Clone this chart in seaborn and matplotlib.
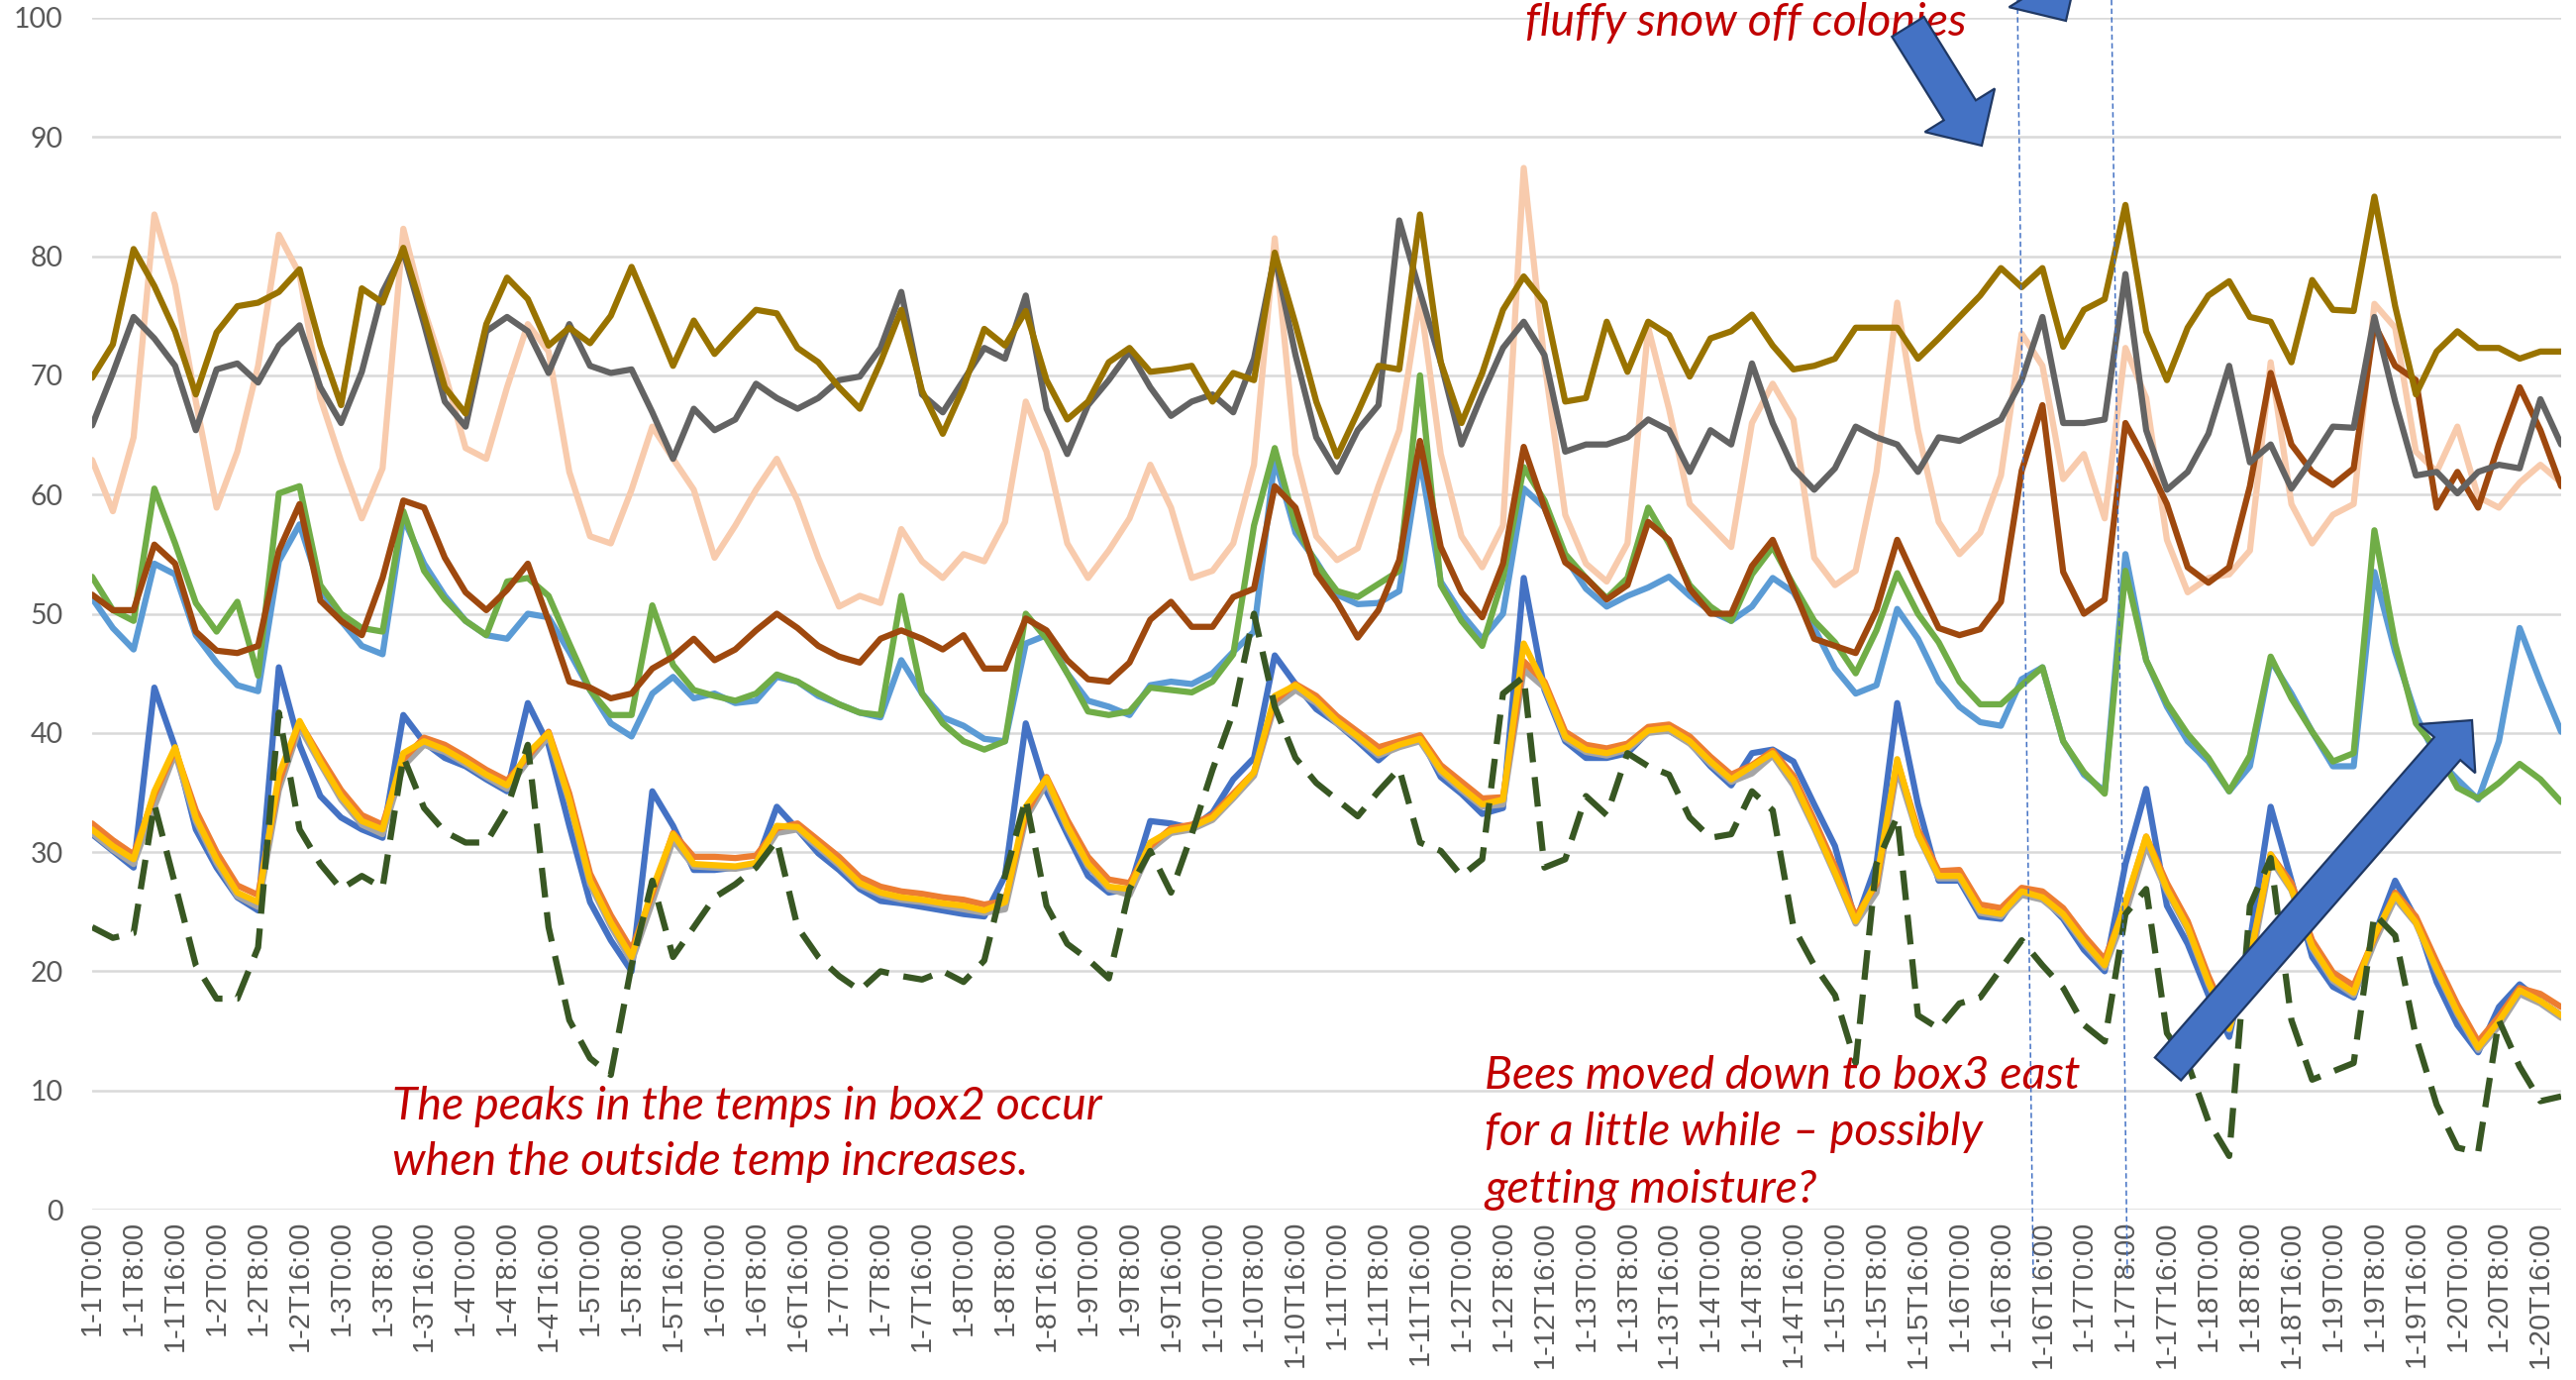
import numpy as np
import pandas as pd
import matplotlib
matplotlib.use("Agg")
import matplotlib.pyplot as plt
import seaborn as sns
from matplotlib.patches import Polygon
from matplotlib.lines import Line2D
from matplotlib.transforms import IdentityTransform

# readings every 4 hours, from 1-1T0:00 to 1-20T20:00
days = list(range(1, 21))
hours = [0, 4, 8, 12, 16, 20]

# humidity-like series (upper group)
rh_gold = [69.8, 72.6, 80.6, 77.5, 73.7, 68.4, 73.6, 75.8, 76.1, 77.0, 78.9, 72.5, 67.5, 77.3, 76.1, 80.7, 75.0, 69.0, 66.8, 74.3,
           78.2, 76.4, 72.5, 74.0, 72.7, 75.0, 79.1, 75.0, 70.8, 74.6, 71.8, 73.7, 75.5, 75.2, 72.3, 71.1, 69.0, 67.2, 71.1, 75.5,
           68.7, 65.1, 69.0, 73.9, 72.5, 75.4, 69.6, 66.3, 67.8, 71.1, 72.3, 70.3, 70.5, 70.8, 67.8, 70.2, 69.6, 80.3, 74.3, 67.8,
           63.2, 66.9, 70.8, 70.5, 83.5, 71.1, 66.0, 70.2, 75.5, 78.3, 76.1, 67.8, 68.1, 74.5, 70.3, 74.5, 73.4, 69.9, 73.1, 73.7,
           75.1, 72.5, 70.5, 70.8, 71.4, 74.0, 74.0, 74.0, 71.4, 73.1, 74.9, 76.7, 79.0, 77.4, 79.0, 72.4, 75.5, 76.4, 84.3, 73.7,
           69.6, 74.0, 76.7, 77.9, 74.9, 74.5, 71.1, 78.0, 75.5, 75.4, 85.0, 75.8, 68.4, 72.0, 73.7, 72.3, 72.3, 71.4, 72.0, 72.0]
rh_darkgrey = [65.8, 70.2, 74.9, 73.1, 70.8, 65.4, 70.5, 71.0, 69.4, 72.5, 74.2, 69.0, 66.0, 70.3, 77.0, 80.4, 74.3, 67.8, 65.7, 73.7,
               74.9, 73.7, 70.2, 74.3, 70.8, 70.2, 70.5, 66.9, 63.0, 67.2, 65.4, 66.3, 69.3, 68.1, 67.2, 68.1, 69.6, 69.9, 72.3, 77.0,
               68.4, 66.9, 69.6, 72.3, 71.4, 76.7, 67.2, 63.4, 67.5, 69.6, 72.0, 69.0, 66.6, 67.8, 68.4, 66.9, 71.4, 80.0, 71.7, 64.8,
               61.9, 65.4, 67.5, 83.0, 77.0, 71.1, 64.2, 68.4, 72.3, 74.5, 71.7, 63.6, 64.2, 64.2, 64.8, 66.3, 65.4, 61.9, 65.4, 64.2,
               71.0, 66.0, 62.2, 60.4, 62.2, 65.7, 64.8, 64.2, 61.9, 64.8, 64.5, 65.4, 66.3, 69.6, 74.9, 66.0, 66.0, 66.3, 78.5, 65.4,
               60.4, 61.9, 65.1, 70.8, 62.7, 64.2, 60.5, 63.0, 65.7, 65.6, 74.9, 67.8, 61.6, 61.9, 60.1, 61.9, 62.5, 62.2, 68.0, 64.2]
rh_peach = [62.9, 58.6, 64.8, 83.5, 77.6, 67.8, 58.9, 63.6, 70.8, 81.8, 78.5, 68.1, 62.8, 58.0, 62.2, 82.3, 75.5, 70.2, 63.9, 63.0,
            69.0, 74.3, 72.0, 61.9, 56.5, 55.9, 60.4, 65.7, 63.0, 60.4, 54.7, 57.4, 60.4, 63.0, 59.5, 54.7, 50.6, 51.5, 50.9, 57.1,
            54.4, 53.0, 55.0, 54.4, 57.7, 67.8, 63.6, 55.9, 53.0, 55.3, 58.0, 62.5, 58.9, 53.0, 53.6, 55.9, 62.5, 81.5, 63.4, 56.5,
            54.5, 55.5, 60.7, 65.4, 76.5, 63.4, 56.5, 53.9, 57.4, 87.4, 71.1, 58.3, 54.2, 52.7, 55.9, 74.0, 67.2, 59.2, 57.4, 55.6,
            66.0, 69.3, 66.3, 54.7, 52.4, 53.6, 61.9, 76.1, 65.4, 57.7, 55.0, 56.8, 61.6, 73.5, 70.8, 61.3, 63.4, 58.0, 72.3, 68.1,
            56.2, 51.8, 53.0, 53.3, 55.3, 71.1, 59.2, 55.9, 58.3, 59.2, 76.0, 74.0, 63.6, 61.9, 65.7, 59.8, 58.9, 61.0, 62.5, 61.0]
rh_brown = [51.6, 50.3, 50.3, 55.8, 54.2, 48.5, 46.9, 46.7, 47.3, 55.3, 59.2, 51.1, 49.4, 48.2, 53.0, 59.5, 58.9, 54.7, 51.8, 50.3,
            52.0, 54.2, 49.4, 44.3, 43.8, 42.9, 43.3, 45.4, 46.4, 47.9, 46.1, 47.0, 48.6, 50.0, 48.8, 47.3, 46.4, 45.9, 47.9, 48.6,
            47.9, 47.0, 48.2, 45.4, 45.4, 49.6, 48.6, 46.1, 44.5, 44.3, 45.9, 49.5, 51.0, 48.9, 48.9, 51.4, 52.1, 60.7, 58.9, 53.4,
            51.0, 48.0, 50.3, 54.5, 64.5, 55.6, 51.8, 49.7, 54.2, 64.0, 58.9, 54.3, 53.0, 51.2, 52.4, 57.7, 56.2, 52.1, 50.0, 50.0,
            54.0, 56.2, 52.1, 47.9, 47.3, 46.7, 50.3, 56.2, 52.4, 48.8, 48.2, 48.7, 51.0, 62.0, 67.5, 53.5, 50.0, 51.2, 66.0, 62.8,
            59.2, 53.9, 52.6, 53.9, 60.7, 70.2, 64.2, 61.9, 60.8, 62.2, 74.3, 70.8, 69.6, 58.9, 61.9, 58.9, 64.2, 69.0, 65.4, 60.7]
rh_green = [53.1, 50.3, 49.4, 60.5, 55.9, 50.9, 48.5, 51.0, 44.8, 60.1, 60.7, 52.4, 50.0, 48.8, 48.5, 58.6, 53.6, 51.2, 49.4, 48.2,
            52.7, 53.0, 51.5, 47.5, 43.6, 41.5, 41.5, 50.7, 45.7, 43.6, 43.1, 42.7, 43.3, 44.9, 44.3, 43.3, 42.4, 41.7, 41.5, 51.5,
            43.3, 40.8, 39.3, 38.6, 39.3, 50.0, 47.9, 45.0, 41.8, 41.5, 41.8, 43.8, 43.6, 43.4, 44.3, 46.6, 57.4, 63.9, 57.4, 54.2,
            51.9, 51.4, 52.5, 53.6, 70.0, 52.4, 49.4, 47.3, 53.0, 62.3, 59.5, 55.0, 53.0, 51.3, 53.0, 58.9, 55.9, 52.4, 50.6, 49.4,
            53.3, 55.6, 52.4, 49.4, 47.6, 45.0, 48.6, 53.4, 50.0, 47.6, 44.3, 42.4, 42.4, 44.0, 45.5, 39.3, 36.7, 34.9, 53.6, 46.1,
            42.5, 39.9, 37.9, 35.1, 38.1, 46.4, 42.9, 40.1, 37.6, 38.3, 57.0, 47.5, 40.8, 38.6, 35.4, 34.5, 35.8, 37.4, 36.1, 34.2]
rh_lightblue = [51.3, 48.8, 47.0, 54.2, 53.3, 48.2, 45.9, 44.0, 43.5, 54.4, 57.5, 52.1, 49.4, 47.3, 46.6, 58.0, 54.2, 51.5, 49.4, 48.2,
                47.9, 50.0, 49.7, 46.8, 43.6, 40.8, 39.7, 43.3, 44.7, 42.9, 43.3, 42.5, 42.7, 44.7, 44.3, 43.1, 42.4, 41.7, 41.3, 46.1,
                43.3, 41.3, 40.6, 39.5, 39.3, 47.5, 48.2, 45.0, 42.7, 42.2, 41.5, 44.0, 44.3, 44.1, 45.0, 46.8, 48.5, 63.0, 56.8, 54.4,
                51.6, 50.8, 50.9, 51.9, 63.0, 52.7, 50.0, 47.9, 50.0, 60.5, 58.9, 54.7, 52.1, 50.6, 51.5, 52.2, 53.1, 51.5, 50.2, 49.4,
                50.6, 53.0, 51.8, 48.8, 45.4, 43.3, 44.0, 50.4, 47.9, 44.3, 42.2, 40.9, 40.6, 44.5, 45.5, 39.3, 36.5, 35.1, 55.0, 46.1,
                42.2, 39.3, 37.6, 35.1, 37.2, 46.1, 43.3, 40.1, 37.2, 37.2, 53.5, 46.8, 41.5, 37.9, 36.1, 34.4, 39.3, 48.8, 44.3, 40.1]

# temperature-like series (lower group)
temp_blue = [31.5, 30.1, 28.7, 43.8, 38.8, 31.9, 28.7, 26.2, 25.1, 45.5, 39.0, 34.7, 32.9, 31.9, 31.2, 41.5, 39.2, 37.9, 37.2, 36.1,
             35.1, 42.5, 39.0, 32.2, 25.8, 22.6, 20.0, 35.1, 32.2, 28.5, 28.5, 28.7, 29.0, 33.8, 31.9, 29.9, 28.5, 26.9, 25.9, 25.7,
             25.4, 25.1, 24.8, 24.6, 28.0, 40.8, 35.1, 31.5, 28.0, 26.6, 26.9, 32.6, 32.4, 32.0, 33.3, 36.1, 37.9, 46.5, 44.1, 42.0,
             40.8, 39.3, 37.7, 39.2, 39.7, 36.3, 34.9, 33.2, 33.7, 53.0, 43.6, 39.3, 37.9, 37.9, 38.3, 40.1, 40.2, 39.2, 37.2, 35.6,
             38.3, 38.6, 37.6, 34.0, 30.5, 24.1, 29.0, 42.5, 34.0, 27.6, 27.6, 24.6, 24.4, 26.9, 26.2, 24.4, 21.8, 20.0, 29.0, 35.3,
             25.5, 22.3, 18.0, 14.5, 22.5, 33.8, 27.6, 21.2, 18.7, 17.8, 23.0, 27.6, 24.4, 19.1, 15.5, 13.2, 17.0, 18.9, 17.5, 16.3]
temp_orange = [32.4, 31.0, 29.8, 34.8, 38.6, 33.5, 30.0, 27.2, 26.4, 35.8, 40.9, 38.0, 35.2, 33.1, 32.3, 37.8, 39.6, 39.0, 38.0, 36.9,
               36.0, 38.0, 40.1, 34.9, 28.2, 24.7, 21.8, 26.5, 31.6, 29.6, 29.6, 29.5, 29.7, 32.0, 32.4, 31.0, 29.6, 27.9, 27.1, 26.7,
               26.5, 26.2, 26.0, 25.6, 25.9, 33.2, 36.3, 32.7, 29.6, 27.7, 27.4, 30.5, 32.0, 32.3, 33.1, 34.9, 36.7, 42.7, 44.1, 43.1,
               41.4, 40.1, 38.8, 39.3, 39.8, 37.3, 35.9, 34.5, 34.6, 46.0, 44.3, 40.1, 39.0, 38.7, 39.1, 40.5, 40.7, 39.7, 38.0, 36.5,
               37.3, 38.5, 36.4, 32.7, 28.8, 24.6, 27.3, 37.6, 31.9, 28.4, 28.5, 25.6, 25.3, 27.0, 26.7, 25.3, 23.0, 21.0, 25.6, 31.3,
               27.4, 24.2, 19.6, 15.7, 21.0, 29.8, 27.4, 22.6, 19.9, 18.8, 22.8, 26.6, 24.6, 20.8, 17.2, 14.1, 16.2, 18.6, 18.1, 17.0]
temp_grey = [31.6, 30.2, 29.0, 33.8, 38.3, 32.6, 29.1, 26.3, 25.4, 35.2, 40.5, 37.4, 34.4, 32.3, 31.5, 37.2, 39.0, 38.4, 37.4, 36.3,
             35.3, 37.6, 39.7, 34.2, 27.3, 23.8, 20.8, 25.8, 31.0, 28.8, 28.7, 28.6, 28.9, 31.6, 31.9, 30.4, 28.9, 27.2, 26.4, 26.0,
             25.8, 25.5, 25.2, 24.9, 25.2, 32.8, 35.8, 32.0, 28.8, 26.9, 26.4, 30.2, 31.6, 31.9, 32.7, 34.5, 36.4, 42.3, 43.6, 42.5,
             40.8, 39.5, 38.1, 38.8, 39.3, 36.7, 35.2, 33.8, 34.0, 45.3, 43.8, 39.5, 38.4, 38.1, 38.6, 40.0, 40.2, 39.1, 37.4, 35.9,
             36.6, 38.1, 35.6, 32.0, 28.1, 24.0, 26.6, 37.0, 31.4, 27.8, 27.8, 24.9, 24.6, 26.4, 26.0, 24.6, 22.3, 20.3, 24.8, 30.6,
             26.7, 23.5, 18.9, 15.1, 20.2, 29.4, 26.8, 21.9, 19.2, 18.0, 22.4, 26.1, 24.0, 20.0, 16.4, 13.4, 15.4, 18.1, 17.3, 16.1]
temp_yellow = [31.9, 30.5, 29.4, 35.1, 38.8, 32.9, 29.4, 26.6, 25.8, 36.5, 41.0, 37.6, 34.7, 32.6, 31.9, 38.3, 39.3, 38.6, 37.6, 36.5,
               35.6, 38.3, 40.0, 34.4, 27.6, 24.1, 21.2, 26.9, 31.5, 29.0, 28.9, 28.8, 29.1, 32.2, 32.1, 30.6, 29.1, 27.4, 26.6, 26.2,
               26.0, 25.7, 25.5, 25.1, 25.8, 33.8, 36.2, 32.2, 29.0, 27.1, 26.9, 30.8, 31.8, 32.1, 32.9, 34.7, 36.7, 43.1, 44.0, 42.7,
               41.0, 39.7, 38.3, 39.0, 39.5, 36.9, 35.4, 34.0, 34.4, 47.5, 44.0, 39.7, 38.6, 38.3, 38.8, 40.2, 40.4, 39.3, 37.6, 36.1,
               37.2, 38.3, 36.0, 32.2, 28.3, 24.2, 27.6, 37.8, 31.5, 28.0, 28.0, 25.1, 24.8, 26.7, 26.2, 24.8, 22.5, 20.5, 25.8, 31.3,
               26.9, 23.7, 19.1, 15.2, 21.2, 29.8, 26.9, 22.1, 19.4, 18.2, 23.0, 26.4, 24.1, 20.2, 16.6, 13.6, 15.8, 18.4, 17.5, 16.3]
temp_outside = [23.7, 22.8, 23.2, 34.0, 27.3, 20.5, 17.7, 17.7, 22.0, 41.7, 31.9, 29.0, 26.9, 28.0, 27.0, 38.0, 33.7, 31.7, 30.8, 30.8,
                33.7, 39.0, 23.7, 15.9, 12.7, 11.3, 20.5, 27.6, 21.2, 23.7, 26.2, 27.3, 28.7, 31.0, 23.7, 21.2, 19.6, 18.4, 20.0, 19.6,
                19.3, 20.0, 19.1, 20.9, 28.0, 34.5, 25.5, 22.3, 21.0, 19.4, 26.9, 30.1, 26.6, 31.5, 36.9, 41.7, 50.0, 42.2, 37.9, 35.8,
                34.4, 33.0, 35.1, 37.0, 30.8, 30.1, 28.0, 29.4, 43.3, 44.7, 28.7, 29.4, 34.7, 33.1, 38.3, 37.2, 36.5, 32.9, 31.2, 31.5,
                35.1, 33.5, 23.7, 20.5, 18.0, 12.3, 29.0, 33.0, 16.3, 15.2, 17.3, 17.8, 20.2, 22.6, 20.5, 18.6, 15.5, 14.1, 24.8, 26.9,
                14.8, 12.3, 7.4, 4.5, 25.5, 29.5, 15.9, 10.9, 11.6, 12.3, 24.8, 23.0, 14.5, 8.8, 5.2, 4.8, 15.9, 12.0, 9.1, 9.5]

stamps = [f"1-{d}T{h}:00" for d in days for h in hours]

series = {
    "rh_peach": rh_peach, "rh_lightblue": rh_lightblue, "rh_green": rh_green, "rh_brown": rh_brown,
    "rh_darkgrey": rh_darkgrey, "rh_gold": rh_gold, "temp_blue": temp_blue, "temp_grey": temp_grey,
    "temp_orange": temp_orange, "temp_yellow": temp_yellow, "temp_outside": temp_outside,
}
colors = {
    "rh_peach": "#F8CBAD", "rh_lightblue": "#5B9BD5", "rh_green": "#70AD47", "rh_brown": "#9E480E",
    "rh_darkgrey": "#636363", "rh_gold": "#997300", "temp_blue": "#4472C4", "temp_grey": "#A5A5A5",
    "temp_orange": "#ED7D31", "temp_yellow": "#FFC000", "temp_outside": "#385723",
}

df = pd.DataFrame(series)
df["step"] = np.arange(len(stamps))
long = df.melt(id_vars="step", var_name="series", value_name="value")

sns.set_style("white")
plt.rcParams["font.family"] = ["Lato", "DejaVu Sans"]

W, H = 2601, 1393
fig = plt.figure(figsize=(W / 100, H / 100), dpi=100)
ax = fig.add_axes([93 / W, (H - 1221) / H, (2586 - 93) / W, (1221 - 18) / H])

for z, name in enumerate(series):
    ls = (0, (4.8, 2.4)) if name == "temp_outside" else "-"
    sns.lineplot(data=long[long["series"] == name], x="step", y="value", color=colors[name],
                 lw=4.5, linestyle=ls, errorbar=None, legend=False, ax=ax, zorder=3 + z,
                 solid_joinstyle="round", dash_joinstyle="round")

ax.set_xlim(0, len(stamps) - 1)
ax.set_ylim(0, 100)
ax.set_yticks(range(0, 101, 10))
ax.set_xticks(range(0, len(stamps), 2))
ax.set_xticklabels(stamps[::2], rotation=90, fontfamily="Liberation Sans", fontsize=21, color="#595959")
for lab in ax.get_yticklabels():
    lab.set_fontsize(20.5)
    lab.set_color("#595959")
ax.tick_params(axis="both", length=0)
ax.tick_params(axis="x", pad=8)
ax.tick_params(axis="y", pad=21)
ax.set_xlabel("")
ax.set_ylabel("")
ax.grid(axis="y", color="#D9D9D9", lw=1.8)
ax.grid(axis="x", visible=False)
ax.set_axisbelow(True)
for s in ax.spines.values():
    s.set_visible(False)

ident = IdentityTransform()


def P(x, y):
    return (x, H - y)


red = "#C00000"
tkw = dict(transform=ident, color=red, fontsize=33.5, style="italic", family=["Lato", "DejaVu Sans"], va="baseline", ha="left")
fig.text(*P(396, 1130), "The peaks in the temps in box2 occur", **tkw)
fig.text(*P(396, 1186), "when the outside temp increases.", **tkw)
fig.text(*P(1499, 1099), "Bees moved down to box3 east", **tkw)
fig.text(*P(1499, 1156), "for a little while \u2013 possibly", **tkw)
fig.text(*P(1499, 1214), "getting moisture?", **tkw)
fig.text(*P(1540, 36), "fluffy snow off colonies", **tkw)


def block_arrow(tail, tip, shaft, head_w, head_l):
    t = np.array(tail, float)
    p = np.array(tip, float)
    u = (p - t) / np.linalg.norm(p - t)
    n = np.array([-u[1], u[0]])
    b = p - u * head_l
    pts = [t + n * shaft / 2, b + n * shaft / 2, b + n * head_w / 2, p,
           b - n * head_w / 2, b - n * shaft / 2, t - n * shaft / 2]
    pts = [P(q[0], q[1]) for q in pts]
    fig.patches.append(Polygon(pts, closed=True, transform=ident, facecolor="#4472C4",
                               edgecolor="#1F3864", lw=1.6, zorder=20))


block_arrow((1926.5, 27), (2001, 147), 38, 83, 42)
block_arrow((2011.5, -99), (2086, 21), 38, 83, 42)
block_arrow((2189, 1079), (2496, 727), 35, 75, 38)

for (x0, x1, y1) in [(2037, 2053, 1290), (2132, 2148, 1290)]:
    fig.lines.append(Line2D([x0, x1], [H, H - y1], transform=ident, color="#4472C4", lw=1.1,
                            linestyle=(0, (3.5, 2.2)), zorder=19))

fig.savefig("out.png", dpi=100)
